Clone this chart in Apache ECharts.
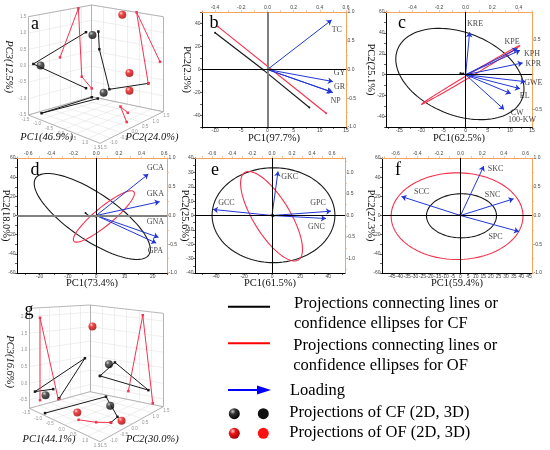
<!DOCTYPE html>
<html>
<head>
<meta charset="utf-8">
<title>PCA panels</title>
<script src="https://cdn.jsdelivr.net/npm/echarts@6.0.0/dist/echarts.min.js"></script>
<style>
  html, body { margin: 0; padding: 0; background: #fff; }
  #main { width: 550px; height: 450px; }
</style>
</head>
<body>
<div id="main"></div>
<script>
// ---------- panel b ----------
var bNames = ['TC', 'GY', 'GR', 'NP'];
var bLoad = [[0.49, 0.86], [0.50, -0.21], [0.50, -0.40], [0.49, -0.39]];
var bCF = [[-10, 32], [-0.8, -0.3], [8, -33]];
var bOF = [[-9.5, 37.5], [11.2, -38]];

// ---------- panel c ----------
var cNames = ['KRE', 'KPE', 'KPH', 'KPR', 'GWE', 'EL', 'CW', '100-KW'];
var cLoad = [[0.03, 0.61], [0.39, 0.375], [0.41, 0.35], [0.43, 0.17], [0.45, -0.10], [0.41, -0.20], [0.29, -0.50], [0.34, -0.27]];
var cCF = [[-1.2, 1.5], [-0.8, 0.6], [-0.5, 1.2]];
// ellipse = centre x, centre y, end of 1st semi-axis x, y, end of 2nd semi-axis x, y
var cCFEllipse = [-1.3, 0.7, 13.1, -8.9, -2.9, 43.3];
var cOFEllipse = [1.16, -0.2, 12.3, 27.9, 1.34, -1.44];

// ---------- panel d ----------
var dNames = ['GCA', 'GKA', 'GNA', 'GPA'];
var dLoad = [[0.46, 0.72], [0.56, 0.24], [0.55, -0.38], [0.53, -0.48]];
var dCF = [[-3.8, 2.5], [-2.5, -0.5], [-0.3, -1]];
var dCFEllipse = [-1.4, -1.0, -21.4, 39.0, 3.2, 19.3];
var dOFEllipse = [2.7, -1.0, 13.3, 24.8, 4.7, -8.3];

// ---------- panel e ----------
var eNames = ['GKC', 'GCC', 'GPC', 'GNC'];
var eLoad = [[0.06, 1.02], [-0.59, 0.14], [0.59, 0.10], [0.54, -0.07]];
var eCF = [[0.5, 0.5], [1, -0.3]];
var eOF = [[0, -0.5], [-0.6, 0.3]];
var eCFEllipse = [1, 0.2, 44.8, 0.2, 1, 33.2];
var eOFEllipse = [-0.4, -0.5, -19.5, 29.9, 10.7, 6.2];

// ---------- panel f ----------
var fNames = ['SKC', 'SCC', 'SNC', 'SPC'];
var fLoad = [[0.215, 0.86], [-0.545, 0.33], [0.49, 0.29], [0.54, -0.28]];
var fOF = [[0, 0], [-0.5, 0.5]];
var fCFEllipse = [0.7, -0.3, 23.7, -0.3, 0.7, 22.7];
var fOFEllipse = [-2.2, -0.7, 41.1, -0.7, -2.2, 44.5];

// ---------- panel a (3D) : walls hold 2D projections ----------
var aCFLeft = [[1.23, 0.65], [-1.26, 0.02], [1.23, -1.17]];          // PC2, PC3
var aCFRight = [[-1.22, 0.67], [-1.18, 0.1], [-0.76, -1.14], [0.87, -0.7]]; // PC1, PC3
var aCFFloor = [[-1.45, 1.45], [-1.37, -1.02], [-1.2, 1.45]];        // PC1, PC2
var aOFLeft = [[0, 0.03], [0.87, 1.47], [1.03, -0.76], [1.5, -1.23]];
var aOFRight = [[1.36, 0.06], [0.38, 1.5], [0.87, -0.7]];
var aOFFloor = [[0.57, 0.87], [-0.03, 1.2], [1.08, 0.24]];
var aCFPoints = [[-1.23, 1.23, 0.6], [-1.2, -1.26, 0.06], [-0.76, 1.23, -1.19]];
var aOFPoints = [[0.18, 1.05, 1.5], [0.48, 1.05, -0.3], [0.48, 1.05, -0.87]];
var aTicks = [-1.5, -1, -0.5, 0, 0.5, 1, 1.5];

// ---------- panel g (3D) ----------
var gCFLeft = [[-0.32, -0.35], [-1.22, -0.29], [1.25, 0.44], [-0.02, -0.69]];
var gOFLeft = [[-0.97, -0.59], [-0.97, 1.94], [-0.07, -0.71]];
var gCFRight = [[-1.09, -0.14], [-0.48, 0.41], [0.89, -0.31], [-1.09, -0.14]];
var gOFRight = [[0.07, -0.47], [0.66, 2.11], [1.07, -0.71]];
var gCFFloor = [[-0.97, -1.34], [-0.72, 1.35], [0.78, 0.15], [0.9, -0.3]];
var gOFFloor = [[0.03, -0.86], [0.54, -0.6], [0.9, -0.3]];
var gCFPoints = [[-1.2, -1.05, -0.33], [-0.6, 1.35, 0.36], [0.09, 0.6, -0.69]];
var gOFPoints = [[-1.35, 1.44, 1.53], [-0.12, -0.75, -0.6], [1.08, 0, -0.75]];
var gTicksXY = [-1.5, -1, -0.5, 0, 0.5, 1, 1.5];
var gTicksZ = [-0.5, 0, 0.5, 1, 1.5, 2];

var SERIF = 'Liberation Serif';
var ORANGE = '#f5a35f';
var BLUE = '#2236d8';
var RED = '#f5334f';
var BLACK = '#1a1a1a';

var chart = echarts.init(document.getElementById('main'));

// layout of the five 2D panels
var panels = [
  {rect: [202, 12, 144, 115], x: [-12.5, 15], xl: [-10, -5, 0, 5, 10, 15], t: [-0.5, 0.6], tl: [-0.4, -0.2, 0, 0.2, 0.4, 0.6],
   y: [-50, 50], yl: [-40, -20, 0, 20, 40], r: [-1, 1], rl: [-1, -0.5, 0, 0.5, 1],
   xName: 'PC1(97.7%)', yName: 'PC2(2.3%)', xGap: 6, yGap: 9.5, letter: 'b', letterAt: [214, 23],
   vZero: {color: '#808080', width: 2}, hZero: {color: '#000', width: 1},
   names: bNames, load: bLoad, labelAt: [[0.53, 0.69], [0.55, -0.06], [0.55, -0.31], [0.52, -0.55]]},
  {rect: [386, 12, 146, 115], x: [-18, 15], xl: [-15, -10, -5, 0, 5, 10, 15], t: [-0.6, 0.5], tl: [-0.4, -0.2, 0, 0.2, 0.4],
   y: [-50, 60], yl: [-40, -20, 0, 20, 40, 60], r: [-0.75, 0.9], rl: [-0.5, 0.5],
   xName: 'PC1(62.5%)', yName: 'PC2(25.1%)', xGap: 6, yGap: 9.5, letter: 'c', letterAt: [402, 23],
   vZero: {color: '#000', width: 1}, hZero: {color: '#000', width: 1},
   names: cNames, load: cLoad,
   labelAt: [[0.071, 0.732], [0.35, 0.465], [0.50, 0.297], [0.51, 0.152], [0.51, -0.115], [0.445, -0.307], [0.388, -0.55], [0.425, -0.645]]},
  {rect: [17, 158, 150, 115], x: [-28, 25], xl: [-20, -10, 0, 10, 20], t: [-0.7, 0.625], tl: [-0.6, -0.4, -0.2, 0, 0.2, 0.4, 0.6],
   y: [-60, 60], yl: [-60, -40, -20, 0, 20, 40, 60], r: [-1, 1], rl: [-1, -0.5, 0, 0.5, 1],
   xName: 'PC1(73.4%)', yName: 'PC2(18.0%)', xGap: 5, yGap: 5.5, letter: 'd', letterAt: [35, 170],
   vZero: {color: '#000', width: 1}, hZero: {color: '#808080', width: 2},
   names: dNames, load: dLoad, labelAt: [[0.523, 0.836], [0.523, 0.373], [0.523, -0.115], [0.523, -0.615]]},
  {rect: [195, 158, 150, 115], x: [-55, 52], xl: [-40, -20, 0, 20, 40], t: [-0.77, 0.73], tl: [-0.6, -0.4, -0.2, 0, 0.2, 0.4, 0.6],
   y: [-40, 40], yl: [-40, -30, -20, -10, 0, 10, 20, 30, 40], r: [-1.33, 1.33], rl: [-1, -0.5, 0, 0.5, 1],
   xName: 'PC1(61.5%)', yName: 'PC2(25.6%)', xGap: 5, yGap: 5, letter: 'e', letterAt: [215, 170],
   vZero: {color: '#000', width: 1}, hZero: {color: '#000', width: 1},
   names: eNames, load: eLoad, labelAt: [[0.177, 0.89], [-0.456, 0.292], [0.46, 0.292], [0.444, -0.27]]},
  {rect: [382, 158, 150, 115], x: [-51.5, 47], xl: [-45, -40, -35, -30, -25, -20, -15, -10, -5, 0, 5, 10, 15, 20, 25, 30, 35, 40, 45],
   t: [-0.725, 0.66], tl: [-0.6, -0.4, -0.2, 0, 0.2, 0.4, 0.6],
   y: [-60, 60], yl: [-60, -40, -20, 0, 20, 40, 60], r: [-1, 1], rl: [-1, -0.5, 0, 0.5, 1],
   xName: 'PC1(59.4%)', yName: 'PC2(27.3%)', xGap: 5, yGap: 5.5, letter: 'f', letterAt: [398, 170], noHalf: true,
   vZero: {color: '#000', width: 1}, hZero: {color: '#000', width: 1},
   names: fNames, load: fLoad, labelAt: [[0.323, 0.819], [-0.36, 0.413], [0.295, 0.366], [0.323, -0.378]]}
];

function ticksOf(labels, lo, hi, half) {
  if (!half || labels.length < 2) return labels;
  var step = (labels[1] - labels[0]) / 2, out = [];
  for (var v = labels[0] - step * 6; v <= hi + 1e-9; v += step) {
    if (v >= lo - 1e-9) out.push(Math.round(v * 1e4) / 1e4);
  }
  return out;
}

function valueAxis(gi, pos, range, labels, o) {
  var main = pos === 'bottom' || pos === 'left';
  var col = main ? '#000' : ORANGE;
  return {
    type: 'value', gridIndex: gi, position: pos, min: range[0], max: range[1],
    axisLine: {show: true, onZero: false, lineStyle: {color: col, width: 1}},
    axisTick: {show: true, customValues: ticksOf(labels, range[0], range[1], o.half), length: 2, lineStyle: {color: col, width: 0.6}},
    axisLabel: {customValues: labels, fontSize: 5, margin: 1.5, color: '#444', fontFamily: 'Liberation Sans', formatter: o.fmt},
    splitLine: {show: false},
    name: o.name || '', nameLocation: 'middle', nameGap: o.gap || 0, nameRotate: o.rotate, nameMoveOverlap: false,
    nameTextStyle: {fontFamily: SERIF, fontSize: 10.5, color: '#111'}
  };
}

function fmt0(v) { return String(Math.round(v)); }
function fmt1(v) { return v.toFixed(1); }

function ellipseSeries(xi, arr, color) {
  return {
    type: 'custom', xAxisIndex: xi, yAxisIndex: xi, data: [arr], silent: true, z: 2,
    renderItem: function (params, api) {
      var c = api.coord([api.value(0), api.value(1)]);
      var p = api.coord([api.value(2), api.value(3)]);
      var q = api.coord([api.value(4), api.value(5)]);
      var pts = [];
      for (var k = 0; k <= 120; k++) {
        var t = k / 120 * Math.PI * 2;
        pts.push([c[0] + (p[0] - c[0]) * Math.cos(t) + (q[0] - c[0]) * Math.sin(t),
                  c[1] + (p[1] - c[1]) * Math.cos(t) + (q[1] - c[1]) * Math.sin(t)]);
      }
      return {type: 'polyline', shape: {points: pts}, style: {stroke: color, fill: null, lineWidth: 1.1}};
    }
  };
}

function projLine(xi, data, color, zero) {
  var s = {
    type: 'line', xAxisIndex: xi, yAxisIndex: xi, data: data, symbol: 'circle', symbolSize: 2,
    itemStyle: {color: color}, lineStyle: {color: color, width: 1.2}, silent: true, z: 3
  };
  if (zero) {
    s.markLine = {silent: true, symbol: 'none', label: {show: false}, animation: false,
      data: [{xAxis: 0, lineStyle: {color: zero[0].color, width: zero[0].width, type: 'solid'}},
             {yAxis: 0, lineStyle: {color: zero[1].color, width: zero[1].width, type: 'solid'}}]};
  }
  return s;
}

var grids = [], xAxes = [], yAxes = [], series = [], texts = [];

panels.forEach(function (p, i) {
  grids.push({left: p.rect[0], top: p.rect[1], width: p.rect[2], height: p.rect[3], outerBoundsMode: 'none'});
  var half = !p.noHalf;
  xAxes.push(valueAxis(i, 'bottom', p.x, p.xl, {half: half, fmt: fmt0, name: p.xName, gap: p.xGap}));
  xAxes.push(valueAxis(i, 'top', p.t, p.tl, {half: true, fmt: fmt1}));
  yAxes.push(valueAxis(i, 'left', p.y, p.yl, {half: true, fmt: fmt0, name: p.yName, gap: p.yGap, rotate: -90}));
  yAxes.push(valueAxis(i, 'right', p.r, p.rl, {half: true, fmt: fmt1}));
  texts.push({type: 'text', x: p.letterAt[0], y: p.letterAt[1], z: 10,
    style: {text: p.letter, font: '18px "' + SERIF + '"', fill: '#000', align: 'center', verticalAlign: 'middle'}});
});

// panel contents
var zeros = panels.map(function (p) { return [p.vZero, p.hZero]; });
series.push(projLine(0, bCF, BLACK, zeros[0]), projLine(0, bOF, RED));
series.push(projLine(2, cCF, BLACK, zeros[1]), ellipseSeries(2, cCFEllipse, BLACK), ellipseSeries(2, cOFEllipse, RED));
series.push(projLine(4, dCF, BLACK, zeros[2]), ellipseSeries(4, dCFEllipse, BLACK), ellipseSeries(4, dOFEllipse, RED));
series.push(projLine(6, eCF, BLACK, zeros[3]), projLine(6, eOF, RED), ellipseSeries(6, eCFEllipse, BLACK), ellipseSeries(6, eOFEllipse, RED));
series.push(projLine(8, fOF, RED, zeros[4]), ellipseSeries(8, fCFEllipse, BLACK), ellipseSeries(8, fOFEllipse, RED));

// loading arrows + their labels on the top/right axes
panels.forEach(function (p, i) {
  var li = 2 * i + 1;
  series.push({
    type: 'lines', coordinateSystem: 'cartesian2d', xAxisIndex: li, yAxisIndex: li, silent: true, z: 4,
    symbol: ['none', 'arrow'], symbolSize: [0, 5],
    lineStyle: {color: BLUE, width: 1, opacity: 1},
    data: p.load.map(function (v) { return {coords: [[0, 0], v]}; })
  });
  series.push({
    type: 'scatter', xAxisIndex: li, yAxisIndex: li, silent: true, clip: false, z: 5,
    symbolSize: 1, itemStyle: {color: 'rgba(0,0,0,0)'},
    label: {show: true, position: 'inside', formatter: '{b}', fontFamily: SERIF, fontSize: 8, color: '#111'},
    data: p.names.map(function (n, k) { return {name: n, value: p.labelAt[k]}; })
  });
});

// ---------- 3D panels drawn on a full-size pixel grid ----------
grids.push({left: 0, top: 0, width: 550, height: 450, outerBoundsMode: 'none'});
xAxes.push({type: 'value', gridIndex: 5, min: 0, max: 550, show: false});
yAxes.push({type: 'value', gridIndex: 5, min: 0, max: 450, inverse: true, show: false});

var boxA = {r1: [-1.5, 1.5], r2: [-1.5, 1.5], r3: [-1.5, 1.5],
  Lb: [28.3, 115], Bb: [91.7, 96.7], Rb: [163.3, 111.7], Fb: [100, 143.3],
  Lt: [28.3, 16.7], Bt: [91.7, 5], Rt: [163.3, 16.7], Ft: [100, 46]};
var boxG = {r1: [-1.5, 1.5], r2: [-1.5, 1.5], r3: [-0.75, 2.25],
  Lb: [29.3, 408.3], Bb: [90, 391.7], Rb: [163.3, 406.7], Fb: [100, 441.7],
  Lt: [29.3, 308.3], Bt: [90, 305], Rt: [163.3, 313.3], Ft: [100, 345]};

function lerp(p, q, t) { return [p[0] + (q[0] - p[0]) * t, p[1] + (q[1] - p[1]) * t]; }
function project(box, x, y, z) {
  var a = (x - box.r1[0]) / (box.r1[1] - box.r1[0]);
  var b = (y - box.r2[0]) / (box.r2[1] - box.r2[0]);
  var c = (z - box.r3[0]) / (box.r3[1] - box.r3[0]);
  var bot = lerp(lerp(box.Lb, box.Bb, b), lerp(box.Fb, box.Rb, b), a);
  var top = lerp(lerp(box.Lt, box.Bt, b), lerp(box.Ft, box.Rt, b), a);
  return lerp(bot, top, c);
}
function onLeft(box, arr) { return arr.map(function (d) { return project(box, box.r1[0], d[0], d[1]); }); }
function onRight(box, arr) { return arr.map(function (d) { return project(box, d[0], box.r2[1], d[1]); }); }
function onFloor(box, arr) { return arr.map(function (d) { return project(box, d[0], d[1], box.r3[0]); }); }
function inBox(box, arr) { return arr.map(function (d) { return project(box, d[0], d[1], d[2]); }); }

function wallGrid(box, t1, t2, t3) {
  var s = [], x0 = box.r1[0], x1 = box.r1[1], y0 = box.r2[0], y1 = box.r2[1], z0 = box.r3[0], z1 = box.r3[1];
  function seg(p, q) { s.push({coords: [p, q]}); }
  t2.forEach(function (v) { seg(project(box, x0, v, z0), project(box, x0, v, z1)); seg(project(box, x0, v, z0), project(box, x1, v, z0)); });
  t3.forEach(function (v) { seg(project(box, x0, y0, v), project(box, x0, y1, v)); seg(project(box, x0, y1, v), project(box, x1, y1, v)); });
  t1.forEach(function (v) { seg(project(box, v, y1, z0), project(box, v, y1, z1)); seg(project(box, v, y0, z0), project(box, v, y1, z0)); });
  return s;
}
function boxEdges(box) {
  var e = [['Lb', 'Bb'], ['Bb', 'Rb'], ['Rb', 'Fb'], ['Fb', 'Lb'], ['Lb', 'Lt'], ['Bb', 'Bt'], ['Rb', 'Rt'], ['Lt', 'Bt'], ['Bt', 'Rt']];
  return e.map(function (k) { return {coords: [box[k[0]], box[k[1]]]}; });
}

var blackBall = new echarts.graphic.RadialGradient(0.35, 0.3, 0.75, [
  {offset: 0, color: '#c8c8c8'}, {offset: 0.35, color: '#333'}, {offset: 1, color: '#000'}]);
var redBall = new echarts.graphic.RadialGradient(0.35, 0.3, 0.75, [
  {offset: 0, color: '#ffd0d0'}, {offset: 0.35, color: '#ee1515'}, {offset: 1, color: '#9a0000'}]);

function canvasLine(pts, color) {
  return {type: 'line', xAxisIndex: 10, yAxisIndex: 10, data: pts, symbol: 'rect', symbolSize: 2.5,
    itemStyle: {color: color}, lineStyle: {color: color, width: 1}, silent: true, z: 3};
}
function tickText(pts, names, pos, off) {
  return {type: 'scatter', xAxisIndex: 10, yAxisIndex: 10, silent: true, clip: false, z: 2,
    symbolSize: 1, itemStyle: {color: 'rgba(0,0,0,0)'},
    label: {show: true, position: pos, distance: 1.5, offset: off || [0, 0], fontSize: 4.5, color: '#777',
      fontFamily: 'Liberation Sans', formatter: '{b}'},
    data: pts.map(function (p, k) { return {name: names[k], value: p}; })};
}

function add3D(box, t1, t2, t3, d) {
  series.push({type: 'lines', coordinateSystem: 'cartesian2d', xAxisIndex: 10, yAxisIndex: 10, silent: true, z: 1,
    data: wallGrid(box, t1, t2, t3), lineStyle: {color: '#dedede', width: 0.5, opacity: 1}});
  series.push({type: 'lines', coordinateSystem: 'cartesian2d', xAxisIndex: 10, yAxisIndex: 10, silent: true, z: 1,
    data: boxEdges(box), lineStyle: {color: '#a5a5a5', width: 0.8, opacity: 1}});
  series.push(canvasLine(onLeft(box, d.cfL), BLACK), canvasLine(onRight(box, d.cfR), BLACK), canvasLine(onFloor(box, d.cfF), BLACK));
  series.push(canvasLine(onLeft(box, d.ofL), RED), canvasLine(onRight(box, d.ofR), RED), canvasLine(onFloor(box, d.ofF), RED));
  series.push({type: 'scatter', xAxisIndex: 10, yAxisIndex: 10, silent: true, z: 4, symbolSize: 8,
    itemStyle: {color: blackBall}, data: inBox(box, d.cfP)});
  series.push({type: 'scatter', xAxisIndex: 10, yAxisIndex: 10, silent: true, z: 4, symbolSize: 8,
    itemStyle: {color: redBall}, data: inBox(box, d.ofP)});
  var lab = function (v) { return v.toFixed(1); };
  series.push(tickText(t3.map(function (v) { return project(box, box.r1[0], box.r2[0], v); }), t3.map(lab), 'left'));
  series.push(tickText(t1.map(function (v) { return project(box, v, box.r2[0], box.r3[0]); }), t1.map(lab), 'bottom', [-3, 0]));
  series.push(tickText(t2.map(function (v) { return project(box, box.r1[1], v, box.r3[0]); }), t2.map(lab), 'bottom', [3, 0]));
}

add3D(boxA, aTicks, aTicks, aTicks,
  {cfL: aCFLeft, cfR: aCFRight, cfF: aCFFloor, ofL: aOFLeft, ofR: aOFRight, ofF: aOFFloor, cfP: aCFPoints, ofP: aOFPoints});
add3D(boxG, gTicksXY, gTicksXY, gTicksZ,
  {cfL: gCFLeft, cfR: gCFRight, cfF: gCFFloor, ofL: gOFLeft, ofR: gOFRight, ofF: gOFFloor, cfP: gCFPoints, ofP: gOFPoints});

function itext(txt, x, y, rot) {
  return {type: 'text', x: x, y: y, rotation: rot || 0, z: 10,
    style: {text: txt, font: 'italic 10.5px "' + SERIF + '"', fill: '#111', align: 'center', verticalAlign: 'middle'}};
}
texts.push(
  {type: 'text', x: 35, y: 24, z: 10, style: {text: 'a', font: '18px "' + SERIF + '"', fill: '#000', align: 'center', verticalAlign: 'middle'}},
  {type: 'text', x: 29, y: 310, z: 10, style: {text: 'g', font: '18px "' + SERIF + '"', fill: '#000', align: 'center', verticalAlign: 'middle'}},
  itext('PC1(46.9%)', 46.7, 137), itext('PC2(24.0%)', 152, 137), itext('PC3(12.5%)', 8.5, 66.7, -Math.PI / 2),
  itext('PC1(44.1%)', 49, 439), itext('PC2(30.0%)', 152.3, 439), itext('PC3(16.6%)', 9.5, 361.7, -Math.PI / 2)
);

// ---------- legend ----------
function ltext(txt, x, y) {
  return {type: 'text', x: x, y: y, z: 10,
    style: {text: txt, font: '16.5px "' + SERIF + '"', fill: '#000', verticalAlign: 'middle'}};
}
function lball(x, y, fill) {
  return {type: 'circle', shape: {cx: x, cy: y, r: 5.5}, z: 10, style: {fill: fill}};
}
texts.push(
  {type: 'line', shape: {x1: 228, y1: 306.7, x2: 270, y2: 306.7}, z: 10, style: {stroke: '#000', lineWidth: 2}},
  ltext('Projections connecting lines or', 294, 303.5), ltext('confidence ellipses for CF', 294, 323.5),
  {type: 'line', shape: {x1: 228, y1: 343.3, x2: 270, y2: 343.3}, z: 10, style: {stroke: '#ff0000', lineWidth: 2}},
  ltext('Projections connecting lines or', 293.3, 345.5), ltext('confidence ellipses for OF', 293.3, 365.7),
  {type: 'line', shape: {x1: 228, y1: 390, x2: 260, y2: 390}, z: 10, style: {stroke: '#0000ff', lineWidth: 2}},
  {type: 'polygon', shape: {points: [[257, 385.5], [271, 390], [257, 394.5]]}, z: 10, style: {fill: '#0000ff'}},
  ltext('Loading', 290, 391),
  lball(234.3, 413.7, blackBall), lball(263.3, 413.7, '#111'),
  ltext('Projections of CF (2D, 3D)', 289.3, 412.5),
  lball(234.3, 433.3, redBall), lball(263.3, 433.3, '#ff1010'),
  ltext('Projections of OF (2D, 3D)', 289.3, 432.5)
);

chart.setOption({
  animation: false,
  backgroundColor: '#fff',
  grid: grids,
  xAxis: xAxes,
  yAxis: yAxes,
  series: series,
  graphic: texts
});
</script>
</body>
</html>
